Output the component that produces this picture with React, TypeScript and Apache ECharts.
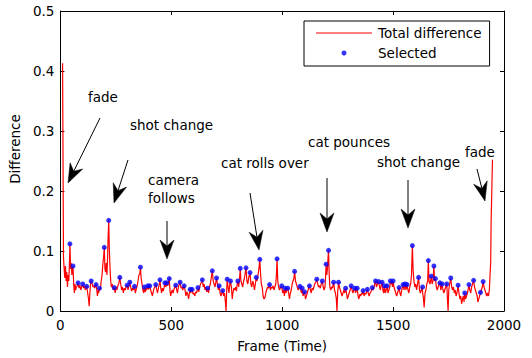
import React, { useEffect, useRef } from "react";
import * as echarts from "echarts";

// ---------- data ----------
const xTickValues = [0, 500, 1000, 1500, 2000];
const yTickValues = [0, 0.1, 0.2, 0.3, 0.4, 0.5];

// Total difference per frame [frame, difference]
const totalDifference: [number, number][] = [
  [10, 0.413], [14, 0.09], [17, 0.07], [20, 0.055], [23, 0.075], [26, 0.05], [29, 0.065], [32, 0.04], [35, 0.06], [38, 0.05],
  [41, 0.08], [43, 0.112], [46, 0.07], [49, 0.08], [52, 0.06], [55, 0.07], [57, 0.075], [60, 0.045], [63, 0.03], [66, 0.045],
  [69, 0.035], [72, 0.04], [76, 0.042], [80, 0.047], [84, 0.038], [88, 0.043], [92, 0.035], [96, 0.04], [101, 0.045], [105, 0.038],
  [109, 0.042], [113, 0.035], [116, 0.04], [119, 0.041], [123, 0.03], [127, 0.02], [130, 0.008], [133, 0.03], [136, 0.045], [139, 0.05],
  [143, 0.046], [147, 0.04], [151, 0.042], [155, 0.038], [158, 0.043], [161, 0.044], [164, 0.036], [167, 0.025], [170, 0.035], [173, 0.03],
  [176, 0.038], [180, 0.035], [184, 0.05], [188, 0.06], [192, 0.08], [195, 0.09], [198, 0.106], [201, 0.07], [204, 0.065], [207, 0.08],
  [210, 0.06], [213, 0.09], [215, 0.12], [218, 0.151], [221, 0.1], [224, 0.07], [227, 0.05], [230, 0.04], [234, 0.045], [238, 0.035],
  [243, 0.039], [247, 0.03], [251, 0.04], [255, 0.035], [259, 0.042], [263, 0.045], [268, 0.056], [272, 0.045], [276, 0.035], [280, 0.04],
  [284, 0.03], [288, 0.038], [292, 0.035], [296, 0.04], [301, 0.043], [305, 0.035], [309, 0.042], [313, 0.048], [317, 0.04], [321, 0.033],
  [325, 0.038], [329, 0.035], [334, 0.041], [338, 0.03], [342, 0.036], [346, 0.042], [350, 0.05], [354, 0.06], [358, 0.062], [361, 0.073],
  [364, 0.055], [368, 0.045], [372, 0.035], [376, 0.03], [379, 0.04], [383, 0.032], [387, 0.038], [390, 0.035], [394, 0.042], [398, 0.036],
  [403, 0.042], [407, 0.035], [411, 0.03], [415, 0.025], [419, 0.033], [423, 0.038], [426, 0.04], [430, 0.044], [434, 0.036], [438, 0.03],
  [442, 0.038], [446, 0.045], [449, 0.052], [452, 0.04], [456, 0.03], [460, 0.038], [464, 0.033], [468, 0.04], [471, 0.047], [475, 0.04],
  [480, 0.047], [484, 0.042], [487, 0.048], [491, 0.054], [494, 0.035], [497, 0.025], [500, 0.03], [504, 0.035], [508, 0.03], [512, 0.036],
  [516, 0.04], [520, 0.043], [524, 0.036], [528, 0.03], [532, 0.04], [536, 0.045], [540, 0.048], [544, 0.038], [548, 0.04], [552, 0.035],
  [555, 0.04], [558, 0.042], [562, 0.035], [566, 0.025], [570, 0.032], [574, 0.028], [578, 0.02], [582, 0.03], [585, 0.036], [588, 0.03],
  [591, 0.035], [594, 0.036], [598, 0.028], [602, 0.03], [606, 0.025], [610, 0.032], [614, 0.03], [617, 0.035], [620, 0.039], [624, 0.032],
  [628, 0.04], [632, 0.045], [636, 0.048], [640, 0.052], [644, 0.04], [648, 0.045], [652, 0.035], [656, 0.04], [660, 0.032], [664, 0.038],
  [668, 0.03], [672, 0.04], [676, 0.045], [680, 0.055], [685, 0.067], [689, 0.05], [693, 0.045], [697, 0.04], [701, 0.048], [704, 0.055],
  [708, 0.045], [712, 0.035], [716, 0.042], [720, 0.03], [724, 0.025], [728, 0.03], [732, 0.034], [736, 0.025], [740, 0.03], [744, 0.015],
  [747, 0.0], [750, 0.035], [752, 0.053], [756, 0.04], [760, 0.03], [764, 0.045], [767, 0.05], [771, 0.04], [775, 0.02], [778, 0.03],
  [782, 0.038], [786, 0.035], [790, 0.04], [794, 0.033], [797, 0.045], [800, 0.05], [804, 0.04], [808, 0.055], [811, 0.071], [814, 0.05],
  [818, 0.045], [822, 0.04], [826, 0.05], [830, 0.055], [834, 0.065], [837, 0.072], [841, 0.05], [845, 0.045], [849, 0.055], [852, 0.06],
  [855, 0.064], [859, 0.045], [863, 0.04], [867, 0.05], [871, 0.045], [875, 0.035], [879, 0.045], [883, 0.056], [887, 0.05], [891, 0.06],
  [895, 0.07], [899, 0.086], [902, 0.065], [906, 0.045], [910, 0.04], [914, 0.025], [918, 0.02], [922, 0.022], [926, 0.03], [930, 0.035],
  [934, 0.04], [938, 0.038], [943, 0.044], [947, 0.035], [951, 0.04], [955, 0.038], [959, 0.042], [963, 0.035], [967, 0.04], [971, 0.045],
  [974, 0.06], [977, 0.087], [980, 0.05], [984, 0.04], [988, 0.035], [992, 0.04], [995, 0.038], [998, 0.042], [1002, 0.03], [1006, 0.035],
  [1010, 0.025], [1013, 0.038], [1017, 0.03], [1021, 0.035], [1025, 0.038], [1029, 0.03], [1033, 0.02], [1037, 0.03], [1041, 0.035], [1045, 0.045],
  [1049, 0.05], [1053, 0.055], [1056, 0.066], [1060, 0.05], [1064, 0.045], [1068, 0.04], [1072, 0.035], [1076, 0.038], [1080, 0.041], [1084, 0.035],
  [1087, 0.03], [1090, 0.038], [1094, 0.025], [1098, 0.03], [1101, 0.032], [1105, 0.02], [1109, 0.025], [1113, 0.03], [1117, 0.035], [1120, 0.04],
  [1123, 0.042], [1127, 0.035], [1131, 0.03], [1135, 0.038], [1139, 0.035], [1143, 0.04], [1147, 0.045], [1151, 0.048], [1156, 0.053], [1160, 0.045],
  [1164, 0.04], [1168, 0.042], [1172, 0.038], [1176, 0.045], [1181, 0.05], [1185, 0.04], [1189, 0.035], [1193, 0.04], [1196, 0.06], [1198, 0.078],
  [1201, 0.06], [1204, 0.07], [1206, 0.085], [1209, 0.101], [1212, 0.06], [1215, 0.04], [1219, 0.035], [1223, 0.04], [1227, 0.038], [1230, 0.045],
  [1232, 0.048], [1236, 0.035], [1240, 0.03], [1244, 0.02], [1247, 0.0], [1250, 0.03], [1254, 0.048], [1258, 0.04], [1262, 0.035], [1266, 0.03],
  [1270, 0.025], [1274, 0.03], [1278, 0.035], [1282, 0.03], [1286, 0.038], [1290, 0.03], [1294, 0.02], [1298, 0.025], [1302, 0.03], [1306, 0.035],
  [1311, 0.042], [1315, 0.035], [1319, 0.03], [1323, 0.035], [1327, 0.038], [1331, 0.03], [1335, 0.035], [1338, 0.038], [1342, 0.025], [1346, 0.02],
  [1350, 0.028], [1354, 0.025], [1358, 0.03], [1362, 0.028], [1365, 0.034], [1369, 0.025], [1373, 0.03], [1377, 0.028], [1381, 0.032], [1384, 0.036],
  [1388, 0.03], [1392, 0.025], [1396, 0.03], [1400, 0.032], [1403, 0.035], [1406, 0.039], [1410, 0.035], [1414, 0.04], [1417, 0.045], [1421, 0.05],
  [1425, 0.04], [1429, 0.045], [1435, 0.049], [1439, 0.04], [1443, 0.035], [1447, 0.045], [1450, 0.048], [1454, 0.035], [1458, 0.03], [1461, 0.042],
  [1465, 0.03], [1469, 0.035], [1473, 0.042], [1477, 0.03], [1481, 0.035], [1485, 0.04], [1488, 0.05], [1491, 0.045], [1494, 0.048], [1497, 0.04],
  [1500, 0.05], [1504, 0.04], [1508, 0.035], [1512, 0.03], [1516, 0.025], [1520, 0.03], [1524, 0.035], [1527, 0.039], [1531, 0.03], [1535, 0.025],
  [1539, 0.035], [1542, 0.04], [1545, 0.044], [1549, 0.035], [1554, 0.045], [1558, 0.035], [1563, 0.044], [1567, 0.035], [1571, 0.03], [1575, 0.04],
  [1579, 0.045], [1583, 0.06], [1587, 0.109], [1590, 0.07], [1594, 0.05], [1598, 0.04], [1602, 0.045], [1606, 0.035], [1610, 0.045], [1615, 0.056],
  [1619, 0.035], [1623, 0.03], [1627, 0.035], [1630, 0.04], [1633, 0.04], [1637, 0.02], [1640, 0.006], [1644, 0.03], [1648, 0.035], [1652, 0.045],
  [1656, 0.05], [1659, 0.084], [1662, 0.05], [1666, 0.045], [1669, 0.05], [1672, 0.058], [1676, 0.045], [1680, 0.05], [1684, 0.075], [1687, 0.05],
  [1691, 0.054], [1695, 0.04], [1699, 0.035], [1703, 0.04], [1707, 0.045], [1711, 0.047], [1715, 0.035], [1718, 0.04], [1721, 0.045], [1725, 0.035],
  [1729, 0.03], [1733, 0.035], [1737, 0.04], [1742, 0.045], [1745, 0.02], [1748, 0.0], [1751, 0.035], [1755, 0.045], [1760, 0.055], [1764, 0.04],
  [1768, 0.035], [1772, 0.04], [1776, 0.03], [1780, 0.035], [1784, 0.025], [1788, 0.03], [1793, 0.043], [1797, 0.03], [1801, 0.02], [1805, 0.025],
  [1809, 0.012], [1813, 0.02], [1817, 0.025], [1820, 0.015], [1823, 0.03], [1827, 0.02], [1831, 0.025], [1835, 0.03], [1838, 0.035], [1842, 0.044],
  [1846, 0.035], [1850, 0.03], [1854, 0.04], [1858, 0.045], [1863, 0.051], [1867, 0.04], [1871, 0.035], [1875, 0.03], [1879, 0.025], [1882, 0.015],
  [1886, 0.02], [1890, 0.025], [1894, 0.031], [1898, 0.035], [1902, 0.04], [1906, 0.049], [1910, 0.04], [1914, 0.035], [1918, 0.03], [1922, 0.025],
  [1926, 0.03], [1930, 0.025], [1934, 0.035], [1937, 0.06], [1940, 0.08], [1942, 0.15], [1945, 0.2], [1948, 0.252],
];

// Frames selected as key frames (blue dots)
const selectedFrames: number[] = [
  43, 57, 80, 101, 119, 139, 161, 176, 198, 218, 243, 268, 301, 313, 334, 361, 379, 394, 403, 430,
  449, 471, 480, 491, 520, 540, 558, 585, 594, 620, 640, 664, 685, 704, 716, 732, 752, 767, 800, 811,
  837, 855, 883, 899, 943, 977, 998, 1013, 1025, 1056, 1080, 1090, 1101, 1123, 1156, 1181, 1198, 1209, 1232, 1254,
  1286, 1311, 1327, 1338, 1365, 1384, 1406, 1421, 1435, 1450, 1461, 1473, 1488, 1500, 1527, 1545, 1554, 1563, 1587, 1615,
  1633, 1659, 1672, 1684, 1691, 1711, 1721, 1742, 1760, 1793, 1823, 1842, 1863, 1894, 1906,
];

const seriesNames = ["Total difference", "Selected"];
const annotationLabels = ["fade", "shot change", "camera\nfollows", "cat rolls over", "cat pounces", "shot change", "fade"];

// ---------- chart ----------
const FONT = "DejaVu Sans";
const FS = 13.5;

function arrowGraphics(x1: number, y1: number, x2: number, y2: number) {
  const dx = x2 - x1;
  const dy = y2 - y1;
  const len = Math.hypot(dx, dy);
  const ux = dx / len;
  const uy = dy / len;
  const px = -uy;
  const py = ux;
  const L = 19;
  const W = 7;
  const N = 6;
  const bx = x2 - ux * L;
  const by = y2 - uy * L;
  const nx = x2 - ux * (L - N);
  const ny = y2 - uy * (L - N);
  return [
    {
      type: "line",
      shape: { x1, y1, x2: nx, y2: ny },
      style: { stroke: "#000", lineWidth: 1 },
      silent: true,
    },
    {
      type: "polygon",
      shape: {
        points: [
          [x2, y2],
          [bx + px * W, by + py * W],
          [nx, ny],
          [bx - px * W, by - py * W],
        ],
      },
      style: { fill: "#000", stroke: "#000", lineWidth: 0.5 },
      silent: true,
    },
  ];
}

export default function App() {
  const ref = useRef<HTMLDivElement>(null);

  useEffect(() => {
    if (!ref.current) return;
    const chart = echarts.init(ref.current, null, { renderer: "svg" });

    const diffByFrame = new Map<number, number>(totalDifference);
    const selectedData = selectedFrames
      .filter((f) => diffByFrame.has(f))
      .map((f) => [f, diffByFrame.get(f) as number]);

    const textPos: [number, number][] = [
      [88, 97], [130, 125], [148, 189], [221, 163], [308, 142], [377, 162], [465, 152],
    ];
    const arrows: [number, number, number, number][] = [
      [100, 118, 68, 183],
      [128, 160, 114, 203],
      [167, 221, 167, 259],
      [250, 193, 259, 250],
      [327, 178, 327, 232],
      [408, 180, 408, 228],
      [477, 169, 485, 201],
    ];

    const graphics: any[] = [];
    annotationLabels.forEach((t, i) => {
      graphics.push({
        type: "text",
        x: textPos[i][0],
        y: textPos[i][1],
        silent: true,
        style: {
          text: t,
          fill: "#000",
          font: `${FS}px "${FONT}"`,
          align: "left",
          verticalAlign: "middle",
          lineHeight: 18,
        },
      });
    });
    arrows.forEach((a) => graphics.push(...arrowGraphics(a[0], a[1], a[2], a[3])));

    const axisCommon = {
      type: "value" as const,
      axisLine: { show: true, onZero: false, lineStyle: { color: "#000", width: 1 } },
      axisTick: { show: true, inside: true, length: 4, lineStyle: { color: "#000" } },
      splitLine: { show: false },
    };

    chart.setOption({
      animation: false,
      backgroundColor: "#fff",
      textStyle: { fontFamily: FONT },
      grid: { left: 57, right: 28, top: 11, bottom: 47, containLabel: false },
      xAxis: [
        {
          ...axisCommon,
          position: "bottom",
          min: xTickValues[0],
          max: xTickValues[xTickValues.length - 1],
          interval: xTickValues[1] - xTickValues[0],
          axisLabel: {
            color: "#000",
            fontSize: FS,
            fontFamily: FONT,
            margin: 7,
            formatter: (v: number) => String(v),
          },
          name: "Frame (Time)",
          nameLocation: "middle",
          nameGap: 35,
          nameTextStyle: { color: "#000", fontSize: FS, fontFamily: FONT, verticalAlign: "middle" },
        },
        {
          ...axisCommon,
          position: "top",
          min: xTickValues[0],
          max: xTickValues[xTickValues.length - 1],
          interval: xTickValues[1] - xTickValues[0],
          axisLabel: { show: false },
        },
      ],
      yAxis: [
        {
          ...axisCommon,
          position: "left",
          min: yTickValues[0],
          max: yTickValues[yTickValues.length - 1],
          interval: yTickValues[1] - yTickValues[0],
          axisLabel: {
            color: "#000",
            fontSize: FS,
            fontFamily: FONT,
            margin: 6,
            formatter: (v: number) => String(Math.round(v * 10) / 10),
          },
          name: "Difference",
          nameLocation: "middle",
          nameGap: 38,
          nameRotate: 90,
          nameTextStyle: { color: "#000", fontSize: FS, fontFamily: FONT, verticalAlign: "middle", padding: [0, 0, 0, 24] },
        },
        {
          ...axisCommon,
          position: "right",
          min: yTickValues[0],
          max: yTickValues[yTickValues.length - 1],
          interval: yTickValues[1] - yTickValues[0],
          axisLabel: { show: false },
        },
      ],
      legend: {
        left: 304,
        top: 21,
        orient: "vertical",
        padding: [5, 8, 6, 12],
        itemGap: 6,
        itemWidth: 56,
        itemHeight: 5,
        borderColor: "#000",
        borderWidth: 1,
        borderRadius: 0,
        backgroundColor: "#fff",
        textStyle: { color: "#000", fontSize: FS, fontFamily: FONT, padding: [0, 0, 0, 1] },
        data: [
          { name: seriesNames[0], icon: "path://M0,0H56V1H0Z" },
          { name: seriesNames[1], icon: "circle" },
        ],
        selectedMode: false,
      },
      graphic: graphics,
      series: [
        {
          name: seriesNames[0],
          type: "line",
          xAxisIndex: 0,
          yAxisIndex: 0,
          data: totalDifference,
          symbol: "none",
          lineStyle: { color: "#ff0000", width: 1.2 },
          itemStyle: { color: "#ff0000" },
          z: 2,
        },
        {
          name: seriesNames[1],
          type: "scatter",
          xAxisIndex: 0,
          yAxisIndex: 0,
          data: selectedData,
          symbol: "circle",
          symbolSize: 5,
          itemStyle: { color: "#0000ff" },
          z: 3,
        },
      ],
    });

    return () => chart.dispose();
  }, []);

  return (
    <div
      ref={ref}
      style={{ position: "fixed", left: 0, top: 0, width: 532, height: 358, background: "#fff" }}
    />
  );
}
